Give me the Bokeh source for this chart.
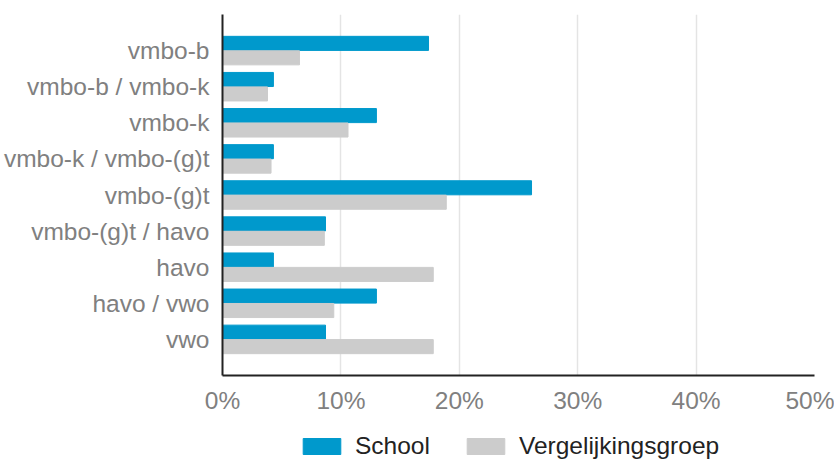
from bokeh.plotting import figure
from bokeh.models import (Range1d, FixedTicker, Legend, LegendItem)
from bokeh.layouts import column
from bokeh.embed import file_html
from bokeh.resources import INLINE

categories = ["vmbo-b", "vmbo-b / vmbo-k", "vmbo-k", "vmbo-k / vmbo-(g)t", "vmbo-(g)t",
              "vmbo-(g)t / havo", "havo", "havo / vwo", "vwo"]
school = [17.4, 4.3, 13.0, 4.3, 26.1, 8.7, 4.3, 13.0, 8.7]
vergelijking = [6.5, 3.8, 10.6, 4.1, 18.9, 8.6, 17.8, 9.4, 17.8]
x_ticks = [0, 10, 20, 30, 40, 50]
series_names = ["School", "Vergelijkingsgroep"]

BLUE = "#0099cc"
GREY = "#cccccc"
FONT = "Liberation Sans"
FS = "24.5px"

idx = list(range(len(categories)))
y_school = [i - 0.2 for i in idx]
y_verg = [i + 0.2 for i in idx]

p = figure(width=833, height=420, frame_width=592, frame_height=361,
           output_backend="svg", toolbar_location=None,
           x_range=Range1d(0, 50), y_range=Range1d(len(categories), -1),
           min_border_left=221, min_border_right=20, min_border_top=14, min_border_bottom=45)

r1 = p.hbar(y=y_school, left=0, right=school, height=0.39, fill_color=BLUE, line_color=BLUE)
r2 = p.hbar(y=y_verg, left=0, right=vergelijking, height=0.39, fill_color=GREY, line_color=GREY)

p.outline_line_color = None
p.background_fill_color = "white"
p.border_fill_color = "white"

# x axis
p.xaxis.ticker = FixedTicker(ticks=x_ticks)
p.xaxis.major_label_overrides = {t: f"{t}%" for t in x_ticks}
p.xaxis.major_tick_line_color = None
p.xaxis.minor_tick_line_color = None
p.xaxis.axis_line_color = "#222222"
p.xaxis.axis_line_width = 2
p.xaxis.major_label_text_font = FONT
p.xaxis.major_label_text_font_size = FS
p.xaxis.major_label_text_color = "#808080"
p.xaxis.major_label_standoff = 5

# y axis
p.yaxis.ticker = FixedTicker(ticks=idx)
p.yaxis.major_label_overrides = {i: c for i, c in zip(idx, categories)}
p.yaxis.major_tick_line_color = None
p.yaxis.minor_tick_line_color = None
p.yaxis.axis_line_color = "#222222"
p.yaxis.axis_line_width = 2
p.yaxis.major_label_text_font = FONT
p.yaxis.major_label_text_font_size = FS
p.yaxis.major_label_text_color = "#808080"
p.yaxis.major_label_standoff = 7

p.xgrid.ticker = FixedTicker(ticks=x_ticks)
p.xgrid.grid_line_color = "#e4e4e4"
p.xgrid.grid_line_width = 1.5
p.ygrid.grid_line_color = None

# legend strip below the chart (its glyphs carry the same series, out of view)
lg = figure(width=833, height=40, output_backend="svg", toolbar_location=None,
            x_range=Range1d(-2, -1), y_range=Range1d(100, 101),
            x_axis_type=None, y_axis_type=None,
            min_border_left=0, min_border_right=0, min_border_top=0, min_border_bottom=0)
lg.outline_line_color = None
lg.xgrid.grid_line_color = None
lg.ygrid.grid_line_color = None
k1 = lg.hbar(y=y_school, left=0, right=school, height=0.39, fill_color=BLUE, line_color=BLUE)
k2 = lg.hbar(y=y_verg, left=0, right=vergelijking, height=0.39, fill_color=GREY, line_color=GREY)

legend = Legend(items=[LegendItem(label=series_names[0], renderers=[k1]),
                       LegendItem(label=series_names[1], renderers=[k2])],
                orientation="horizontal", location=(76, 0))
legend.glyph_width = 47
legend.glyph_height = 20
legend.label_standoff = 10
legend.spacing = 32
legend.padding = 0
legend.margin = 0
legend.border_line_color = None
legend.background_fill_alpha = 0
legend.label_text_font = FONT
legend.label_text_font_size = FS
legend.label_text_color = "#222222"
lg.add_layout(legend, "center")

open("out.html", "w").write(file_html(column(p, lg, spacing=0), INLINE))
